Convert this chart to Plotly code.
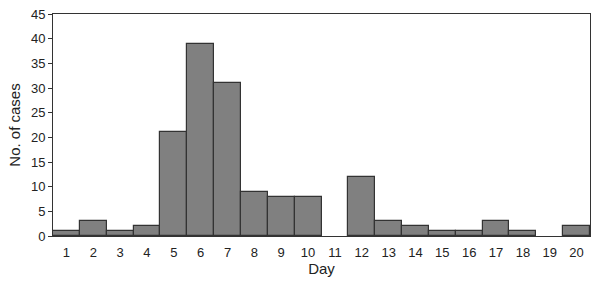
import plotly.graph_objects as go

days = [str(d) for d in range(1, 21)]
cases = [1, 3, 1, 2, 21, 39, 31, 9, 8, 8, 0, 12, 3, 2, 1, 1, 3, 1, 0, 2]
y_ticks = [0, 5, 10, 15, 20, 25, 30, 35, 40, 45]

line_widths = [1.2 if c > 0 else 0 for c in cases]

fig = go.Figure(go.Bar(
    x=days, y=cases,
    marker=dict(color="#808080", line=dict(color="#333333", width=line_widths)),
))
fig.update_layout(
    width=600, height=281,
    margin=dict(l=53, r=10, t=14, b=45),
    paper_bgcolor="white", plot_bgcolor="white",
    bargap=0, showlegend=False,
    font=dict(family="Liberation Sans, Arial, sans-serif", size=13, color="#222222"),
)
fig.update_xaxes(
    title=dict(text="Day", font=dict(size=15), standoff=0),
    showline=True, linecolor="#333333", linewidth=1, mirror=True,
    ticks="", showgrid=False, ticklabelstandoff=4, automargin=False,
)
fig.update_yaxes(
    title=dict(text="No. of cases", font=dict(size=15), standoff=6),
    range=[0, 45], tickvals=y_ticks,
    showline=True, linecolor="#333333", linewidth=1, mirror=True,
    ticks="outside", ticklen=4, tickcolor="#333333", showgrid=False, zeroline=False,
    automargin=False,
)
fig.write_html("out.html")
